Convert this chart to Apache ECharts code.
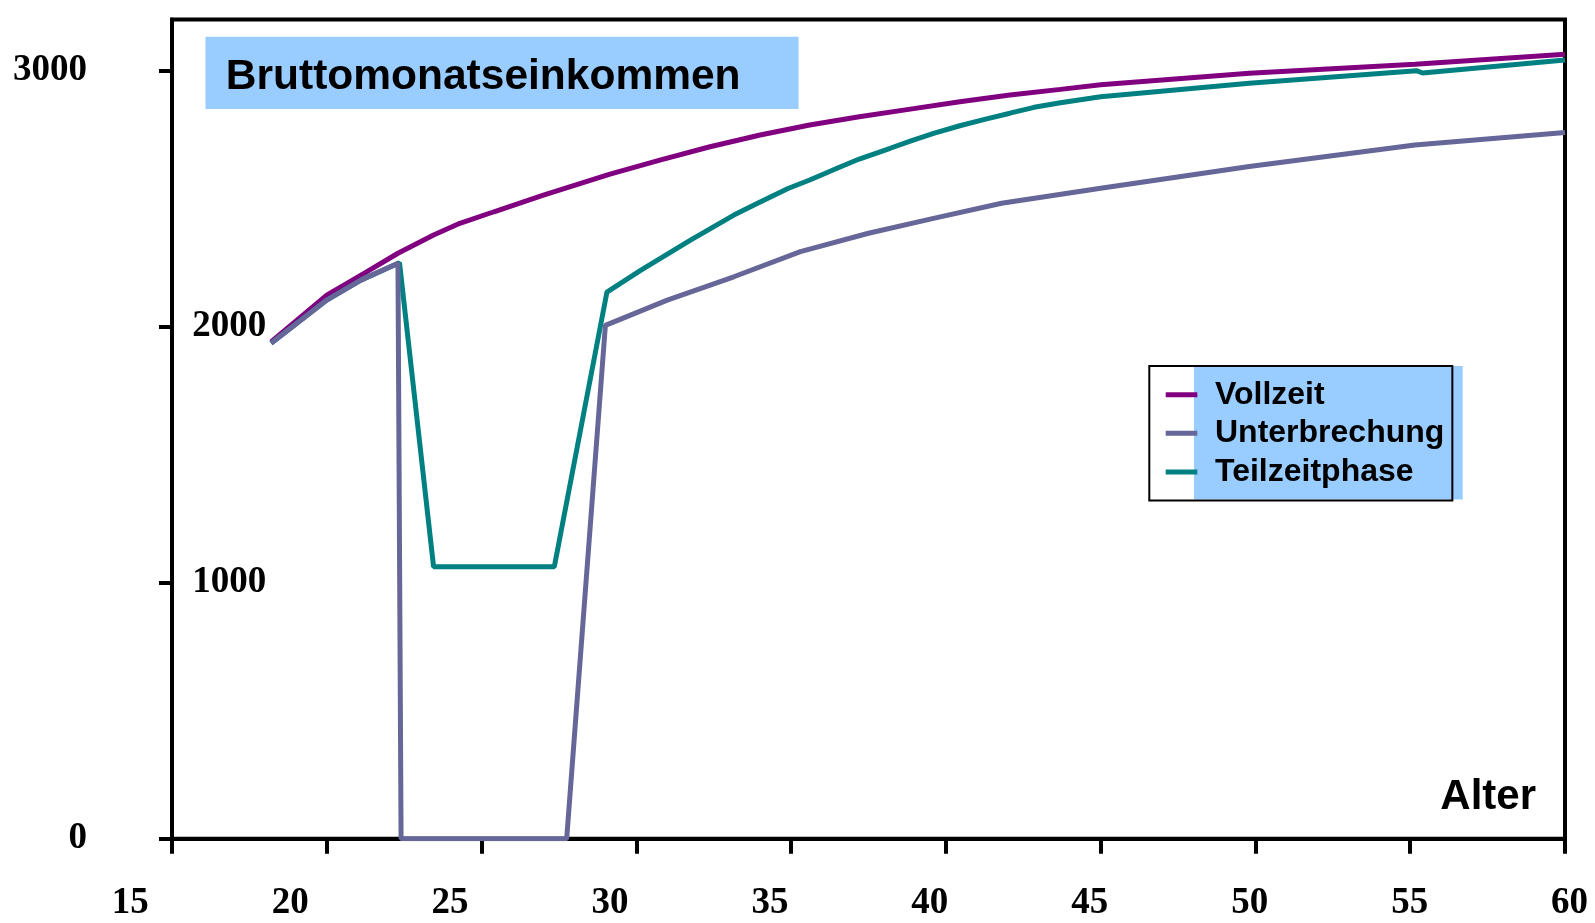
<!DOCTYPE html>
<html>
<head>
<meta charset="utf-8">
<script src="https://cdn.jsdelivr.net/npm/echarts@6/dist/echarts.min.js"></script>
<style>
html,body{margin:0;padding:0;background:#fff;}
#chart{width:1595px;height:923px;}
</style>
</head>
<body>
<div id="chart"></div>
<script>
// ---- Data (age in years, gross monthly income) ----
const seriesNames = ['Vollzeit', 'Unterbrechung', 'Teilzeitphase'];

const vollzeitAlter = [18.2, 20.0, 21.3, 22.3, 23.45, 24.3, 25.4, 27.0, 29.15, 30.76, 32.38, 34.0, 35.6, 37.2, 38.85, 40.45, 42.07, 43.7, 45.0, 49.8, 55.15, 60.0];
const vollzeitWert  = [1941, 2123, 2215, 2287, 2358, 2404, 2449, 2514, 2596, 2651, 2703, 2749, 2788, 2820, 2850, 2879, 2905, 2927, 2945, 2990, 3025, 3064];

const unterbrechungAlter = [18.2, 20.0, 21.1, 22.3, 22.4, 27.75, 29.0, 31.0, 33.15, 35.3, 37.5, 39.6, 41.8, 45.0, 49.8, 55.15, 60.0];
const unterbrechungWert  = [1935, 2104, 2182, 2248, 0, 0, 2005, 2104, 2195, 2293, 2365, 2423, 2482, 2541, 2626, 2710, 2759];

const teilzeitAlter = [18.2, 20.0, 21.1, 22.35, 23.45, 27.35, 29.05, 30.15, 31.75, 33.15, 34.0, 34.9, 35.6, 36.6, 37.2, 38.2, 38.85, 39.6, 40.45, 41.25, 42.07, 42.85, 43.7, 45.0, 49.8, 55.2, 55.4, 60.0];
const teilzeitWert  = [1935, 2104, 2182, 2250, 1062, 1062, 2135, 2221, 2338, 2436, 2487, 2540, 2573, 2625, 2655, 2697, 2725, 2755, 2785, 2810, 2834, 2857, 2875, 2898, 2951, 3000, 2991, 3042];

// ---- Tick labels ----
const xTickValues = [15, 20, 25, 30, 35, 40, 45, 50, 55, 60];
const yTickValues = [0, 1000, 2000, 3000];
const yLabelsOutside = [0, 3000];
const yLabelsInside = [1000, 2000];

const titleText = 'Bruttomonatseinkommen';
const xAxisName = 'Alter';

function pairs(xs, ys) { return xs.map((x, i) => [x, ys[i]]); }

const serif = 'Liberation Serif';
const sans = 'Liberation Sans';
const black = '#000000';
const plain = function (v) { return String(v); };
const numLabel = { fontFamily: serif, fontWeight: 'bold', fontSize: 37, color: black, formatter: plain };

const chart = echarts.init(document.getElementById('chart'), null, { renderer: 'canvas' });

const option = {
  animation: false,
  backgroundColor: '#ffffff',
  title: {
    text: titleText,
    left: 205.5,
    top: 37.7,
    backgroundColor: '#99CCFF',
    padding: [18.6, 58, 10.6, 20.3],
    textStyle: { fontFamily: sans, fontWeight: 'bold', fontSize: 42.5, lineHeight: 41, color: black }
  },
  graphic: [{
    type: 'rect',
    z: 1,
    shape: { x: 1194, y: 366, width: 268.7, height: 133.5 },
    style: { fill: '#99CCFF' }
  }],
  legend: {
    data: seriesNames,
    orient: 'vertical',
    left: 1149.3,
    top: 366,
    padding: [12.7, 8, 12.7, 16.4],
    itemGap: 6.6,
    itemWidth: 31.6,
    itemHeight: 5,
    icon: 'rect',
    borderColor: black,
    borderWidth: 2,
    backgroundColor: 'transparent',
    formatter: '{t|{name}}',
    textStyle: {
      fontFamily: sans, fontWeight: 'bold', fontSize: 32, color: black,
      rich: { t: { fontFamily: sans, fontWeight: 'bold', fontSize: 32, lineHeight: 35, color: black, padding: [0, 0, 0, 12.7] } }
    }
  },
  grid: [
    { left: 172, right: 30, top: 19.5, bottom: 84.3, show: true, borderColor: black, borderWidth: 4, backgroundColor: 'transparent' },
    { left: 130.2, right: 25.4, top: 19.5, bottom: 84.3 }
  ],
  xAxis: [
    {
      gridIndex: 0, type: 'value', min: 15, max: 60, interval: 5, position: 'bottom',
      axisLine: { show: true, lineStyle: { color: black, width: 4 } },
      axisTick: { show: true, length: 15, lineStyle: { color: black, width: 4 } },
      axisLabel: { show: false },
      splitLine: { show: false },
      name: xAxisName, nameLocation: 'end', nameGap: -29,
      nameTextStyle: { fontFamily: sans, fontWeight: 'bold', fontSize: 42, lineHeight: 42, color: black, align: 'right', verticalAlign: 'bottom', padding: [0, 0, 20, 0] }
    },
    {
      gridIndex: 1, type: 'value', min: 15, max: 60, interval: 5, position: 'bottom',
      axisLine: { show: false }, axisTick: { show: false }, splitLine: { show: false },
      axisLabel: Object.assign({ margin: 65, verticalAlign: 'middle', customValues: xTickValues }, numLabel)
    }
  ],
  yAxis: [
    {
      gridIndex: 0, type: 'value', min: 0, max: 3200, interval: 1000, position: 'left',
      axisLine: { show: true, lineStyle: { color: black, width: 4 } },
      axisTick: { show: true, length: 13, customValues: yTickValues, lineStyle: { color: black, width: 4 } },
      axisLabel: Object.assign({ margin: 85, customValues: yLabelsOutside }, numLabel),
      splitLine: { show: false }
    },
    {
      gridIndex: 1, type: 'value', min: 0, max: 3200, interval: 1000, position: 'left',
      axisLine: { show: false }, axisTick: { show: false }, splitLine: { show: false },
      axisLabel: Object.assign({ inside: true, margin: 62, customValues: yLabelsInside }, numLabel)
    }
  ],
  series: [
    {
      name: 'Vollzeit', type: 'line', xAxisIndex: 0, yAxisIndex: 0, z: 2,
      data: pairs(vollzeitAlter, vollzeitWert), showSymbol: false, symbol: 'none',
      lineStyle: { color: '#800080', width: 5 }, itemStyle: { color: '#800080' }
    },
    {
      name: 'Teilzeitphase', type: 'line', xAxisIndex: 0, yAxisIndex: 0, z: 3,
      data: pairs(teilzeitAlter, teilzeitWert), showSymbol: false, symbol: 'none',
      lineStyle: { color: '#008080', width: 5 }, itemStyle: { color: '#008080' }
    },
    {
      name: 'Unterbrechung', type: 'line', xAxisIndex: 0, yAxisIndex: 0, z: 4,
      data: pairs(unterbrechungAlter, unterbrechungWert), showSymbol: false, symbol: 'none',
      lineStyle: { color: '#666699', width: 5 }, itemStyle: { color: '#666699' }
    }
  ]
};

chart.setOption(option);
</script>
</body>
</html>
